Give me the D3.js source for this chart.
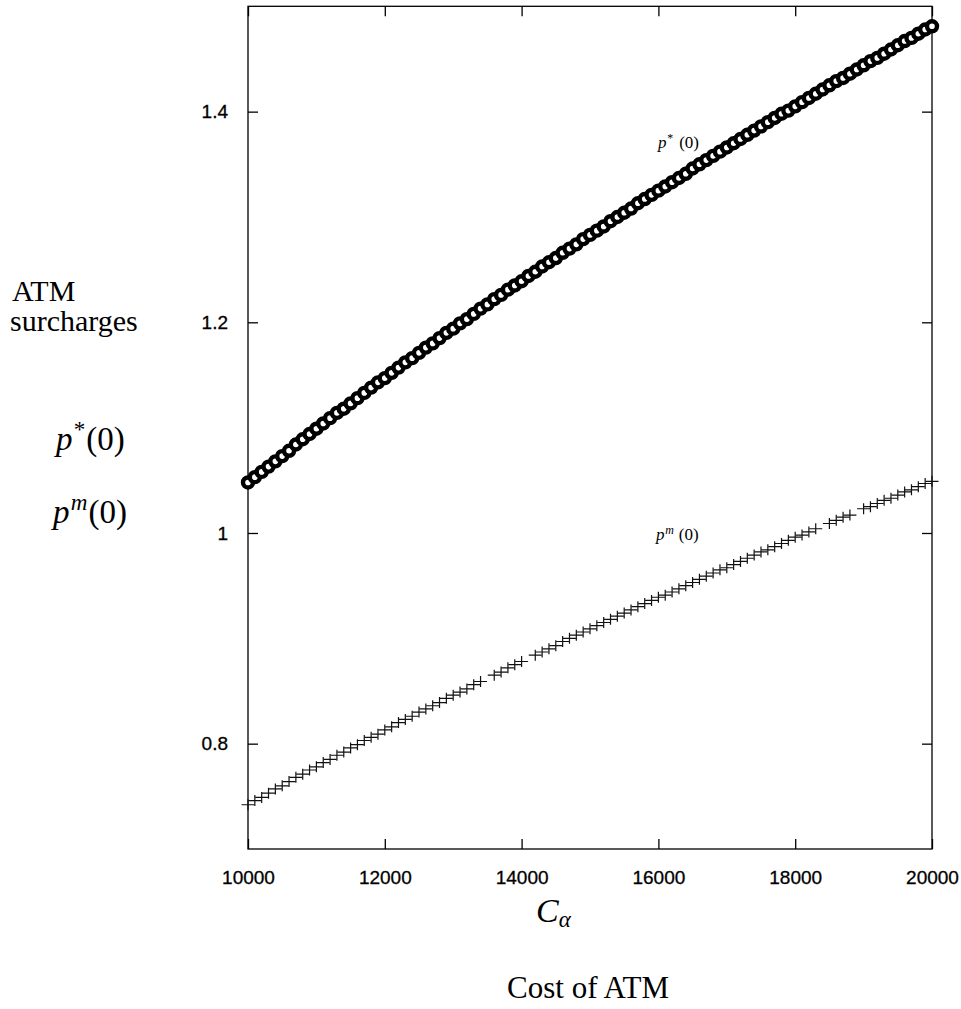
<!DOCTYPE html>
<html>
<head>
<meta charset="utf-8">
<script src="https://cdn.jsdelivr.net/npm/d3@7"></script>
<style>
  body { margin: 0; background: #fff; }
  svg { display: block; }
  .serif { font-family: "Liberation Serif", "DejaVu Serif", serif; fill: #000; }
  .tick-label { font-family: "Liberation Sans", Arial, sans-serif; font-size: 19px; fill: #000; stroke: #000; stroke-width: 0.3px; }
</style>
</head>
<body>
<div id="chart"></div>
<script>
// Cost of ATM (x)
var costs = [10000, 10100, 10200, 10300, 10400, 10500, 10600, 10700, 10800, 10900,
    11000, 11100, 11200, 11300, 11400, 11500, 11600, 11700, 11800, 11900,
    12000, 12100, 12200, 12300, 12400, 12500, 12600, 12700, 12800, 12900,
    13000, 13100, 13200, 13300, 13400, 13500, 13600, 13700, 13800, 13900,
    14000, 14100, 14200, 14300, 14400, 14500, 14600, 14700, 14800, 14900,
    15000, 15100, 15200, 15300, 15400, 15500, 15600, 15700, 15800, 15900,
    16000, 16100, 16200, 16300, 16400, 16500, 16600, 16700, 16800, 16900,
    17000, 17100, 17200, 17300, 17400, 17500, 17600, 17700, 17800, 17900,
    18000, 18100, 18200, 18300, 18400, 18500, 18600, 18700, 18800, 18900,
    19000, 19100, 19200, 19300, 19400, 19500, 19600, 19700, 19800, 19900,
    20000];

// p*(0) surcharge
var pStar = [1.048, 1.053, 1.058, 1.063, 1.068, 1.073, 1.078, 1.084, 1.089, 1.094,
    1.099, 1.104, 1.109, 1.114, 1.118, 1.123, 1.128, 1.133, 1.138, 1.143,
    1.147, 1.152, 1.157, 1.162, 1.166, 1.171, 1.176, 1.180, 1.185, 1.190,
    1.194, 1.199, 1.203, 1.208, 1.213, 1.217, 1.222, 1.226, 1.231, 1.235,
    1.239, 1.244, 1.248, 1.253, 1.257, 1.261, 1.266, 1.270, 1.274, 1.279,
    1.283, 1.287, 1.291, 1.296, 1.300, 1.304, 1.308, 1.313, 1.317, 1.321,
    1.325, 1.329, 1.333, 1.337, 1.341, 1.346, 1.350, 1.354, 1.358, 1.362,
    1.366, 1.370, 1.374, 1.378, 1.382, 1.386, 1.390, 1.394, 1.398, 1.401,
    1.405, 1.409, 1.413, 1.417, 1.421, 1.425, 1.429, 1.432, 1.436, 1.440,
    1.444, 1.448, 1.451, 1.455, 1.459, 1.463, 1.467, 1.470, 1.474, 1.478,
    1.481];

// p^m(0) surcharge (null = no point plotted there)
var pMono = [0.742, 0.746, 0.749, 0.753, 0.757, 0.760, 0.764, 0.768, 0.771, 0.775,
    0.778, 0.782, 0.785, 0.789, 0.792, 0.796, 0.799, 0.803, 0.806, 0.809,
    0.813, 0.816, 0.820, 0.823, 0.826, 0.830, 0.833, 0.836, 0.839, 0.843,
    0.846, 0.849, 0.852, 0.856, 0.859, null, 0.865, 0.868, 0.872, 0.875,
    0.878, null, 0.884, 0.887, 0.890, 0.893, 0.897, 0.900, 0.903, 0.906,
    0.909, 0.912, 0.915, 0.918, 0.921, 0.924, 0.927, 0.930, 0.933, 0.936,
    0.939, 0.941, 0.944, 0.947, 0.950, 0.953, 0.956, 0.959, 0.962, 0.965,
    0.967, 0.970, 0.973, 0.976, 0.979, 0.982, 0.984, 0.987, 0.990, 0.993,
    0.996, 0.998, 1.001, 1.004, null, 1.009, 1.012, 1.015, 1.017, null,
    1.023, 1.025, 1.028, 1.031, 1.033, 1.036, 1.039, 1.041, 1.044, 1.047,
    1.049];

var xTicks = [10000, 12000, 14000, 16000, 18000, 20000],
    yTicks = [0.8, 1, 1.2, 1.4];

var width = 961,
    height = 1009,
    plot_left = 248,
    plot_right = 932,
    plot_top = 6.3,
    plot_bottom = 849,
    tick_len = 10;

var svg = d3.select('#chart').append('svg')
    .attr('width', width)
    .attr('height', height);

var x = d3.scaleLinear().domain([10000, 20000]).range([plot_left, plot_right]),
    y = d3.scaleLinear().domain([0.7, 1.5]).range([plot_bottom, plot_top]);

// Frame with inward ticks on all four sides (gnuplot style)
svg.append('rect')
    .attr('x', plot_left)
    .attr('y', plot_top)
    .attr('width', plot_right - plot_left)
    .attr('height', plot_bottom - plot_top)
    .style('fill', 'none')
    .style('stroke', '#000')
    .style('stroke-width', 1.3);

function axis(gen, tx, ty) {
    var g = svg.append('g')
        .attr('transform', 'translate(' + tx + ',' + ty + ')')
        .call(gen);
    g.select('.domain').remove();
    g.selectAll('.tick line').attr('stroke', '#000').attr('stroke-width', 1.3);
    g.selectAll('.tick text').attr('class', 'tick-label').attr('font-family', null).attr('font-size', null);
    g.attr('font-family', null).attr('font-size', null);
    return g;
}

axis(d3.axisBottom(x).tickValues(xTicks).tickSizeInner(-tick_len).tickPadding(22)
    .tickFormat(d3.format('d')), 0, plot_bottom);
axis(d3.axisTop(x).tickValues(xTicks).tickSizeInner(-tick_len).tickFormat(''), 0, plot_top);
axis(d3.axisLeft(y).tickValues(yTicks).tickSizeInner(-tick_len).tickPadding(20)
    .tickFormat(function (d) { return String(d); }), plot_left, 0);
axis(d3.axisRight(y).tickValues(yTicks).tickSizeInner(-tick_len).tickFormat(''), plot_right, 0);

// p^m(0): plus markers
var monoPts = costs.map(function (c, i) { return [c, pMono[i]]; })
    .filter(function (d) { return d[1] !== null; });

svg.append('g').selectAll('path')
    .data(monoPts)
    .enter().append('path')
    .attr('transform', function (d) { return 'translate(' + x(d[0]) + ',' + y(d[1]) + ')'; })
    .attr('d', 'M-6.5,0H6.5M0,-5.5V5.5')
    .style('fill', 'none')
    .style('stroke', '#111')
    .style('stroke-width', 1.2);

// p*(0): open circles, drawn so heavy they overlap into a solid band
svg.append('g').selectAll('circle')
    .data(costs.map(function (c, i) { return [c, pStar[i]]; }))
    .enter().append('circle')
    .attr('cx', function (d) { return x(d[0]); })
    .attr('cy', function (d) { return y(d[1]); })
    .attr('r', 5)
    .style('fill', '#fff')
    .style('stroke', '#000')
    .style('stroke-width', 4.4);

// Text labels
function math(g, xpos, ypos, size, sup, gap) {
    var t = g.append('text')
        .attr('class', 'serif')
        .attr('x', xpos)
        .attr('y', ypos)
        .attr('font-size', size);
    t.append('tspan').attr('font-style', 'italic').text('p');
    t.append('tspan').attr('font-style', sup === '*' ? 'normal' : 'italic')
        .attr('font-size', size * 0.7).attr('dy', -size * 0.38).attr('dx', size * 0.04).text(sup);
    t.append('tspan').attr('dy', size * 0.38).attr('dx', gap).text('(0)');
    return t;
}

math(svg, 658, 148, 17, '*', 6);
math(svg, 656, 540, 17, 'm', 5);
math(svg, 56, 450, 33, '*', 1);
math(svg, 53, 523, 33, 'm', 1);

svg.append('text').attr('class', 'serif')
    .attr('x', 12).attr('y', 301).attr('font-size', 30)
    .text('ATM');
svg.append('text').attr('class', 'serif')
    .attr('x', 10).attr('y', 331).attr('font-size', 30)
    .text('surcharges');

var ca = svg.append('text').attr('class', 'serif')
    .attr('x', 536).attr('y', 922).attr('font-size', 34);
ca.append('tspan').attr('font-style', 'italic').text('C');
ca.append('tspan').attr('font-style', 'italic').attr('font-size', 23).attr('dy', 5).text('α');

svg.append('text').attr('class', 'serif')
    .attr('x', 588).attr('y', 998).attr('font-size', 31)
    .attr('text-anchor', 'middle')
    .text('Cost of ATM');
</script>
</body>
</html>
